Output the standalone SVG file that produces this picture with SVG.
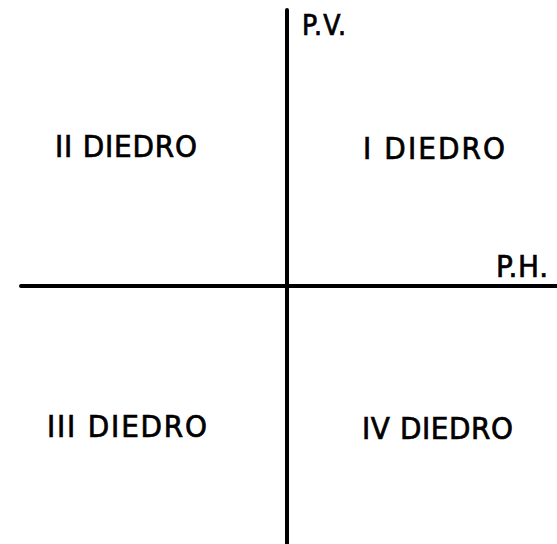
<svg xmlns="http://www.w3.org/2000/svg" width="557" height="544" viewBox="0 0 557 544">
<style>
  .ax { stroke: #000; stroke-width: 4; stroke-linecap: round; fill: none; }
  .lbl { font-family: "Liberation Sans Narrow", "DejaVu Sans Condensed", "Liberation Sans", Arial, sans-serif; font-size: 31px; fill: #000; stroke: #000; stroke-width: 0.7; }
  .sm { font-size: 28px; }
</style>
<rect width="557" height="544" fill="#fff"/>
<g id="connectors">
  <line class="ax" x1="287" y1="10" x2="287" y2="546"/>
  <line class="ax" x1="21" y1="286" x2="559" y2="286"/>
</g>
<g id="pv"><text class="lbl sm" x="302" y="35" textLength="44" lengthAdjust="spacing">P.V.</text></g>
<g id="ph"><text class="lbl" x="496" y="277" textLength="52" lengthAdjust="spacing">P.H.</text></g>
<g id="d2"><text class="lbl" x="55" y="157" textLength="142" lengthAdjust="spacing">II DIEDRO</text></g>
<g id="d1"><text class="lbl" x="363" y="159" textLength="142" lengthAdjust="spacing">I DIEDRO</text></g>
<g id="d3"><text class="lbl" x="47" y="437" textLength="160" lengthAdjust="spacing">III DIEDRO</text></g>
<g id="d4"><text class="lbl" x="362" y="439" textLength="151" lengthAdjust="spacing">IV DIEDRO</text></g>
</svg>
